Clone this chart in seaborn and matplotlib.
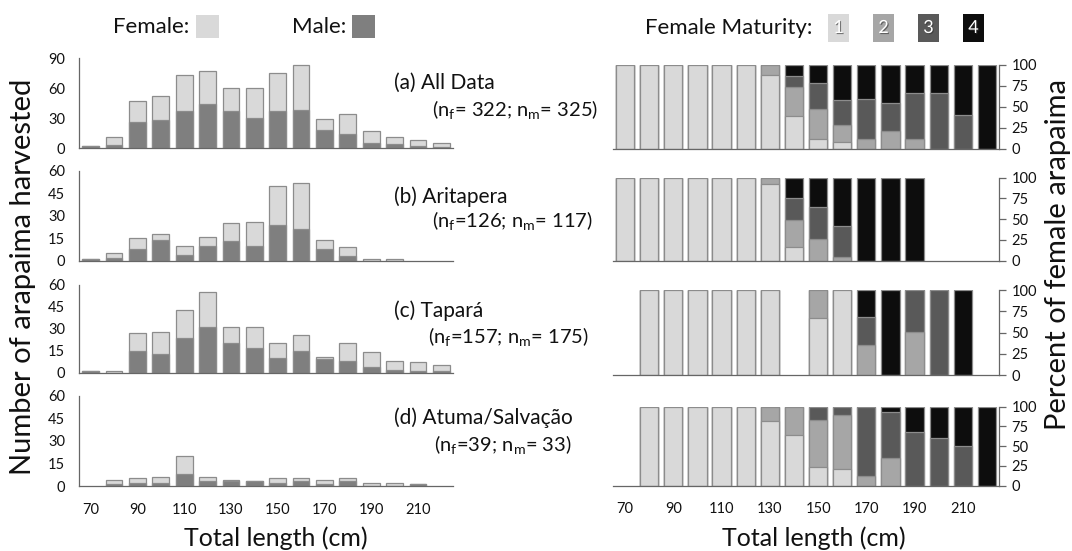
import numpy as np
import pandas as pd
import matplotlib
matplotlib.use("Agg")
import matplotlib.pyplot as plt
import matplotlib.patches as mpatches
import matplotlib.patheffects as pe
import seaborn as sns

# ---------------- data ----------------
lengths = [70, 80, 90, 100, 110, 120, 130, 140, 150, 160, 170, 180, 190, 200, 210, 220]
tick_labels = ["70", "90", "110", "130", "150", "170", "190", "210"]

a_female = [0, 8, 21, 24, 36, 33, 23, 30, 38, 45, 11, 20, 12, 7, 6, 4]
a_male = [2, 3, 26, 28, 37, 44, 37, 30, 37, 38, 18, 14, 5, 4, 2, 1]
b_female = [0, 3, 7, 4, 6, 6, 12, 16, 26, 31, 6, 6, 1, 1, 0, 0]
b_male = [1, 2, 8, 14, 4, 10, 13, 10, 24, 21, 8, 3, 0, 0, 0, 0]
c_female = [0, 1, 12, 15, 19, 24, 11, 14, 10, 11, 2, 12, 10, 6, 6, 4]
c_male = [1, 0, 15, 13, 24, 31, 20, 17, 10, 15, 9, 8, 4, 2, 1, 1]
d_female = [0, 3, 3, 4, 12, 3, 1, 0, 3, 2, 3, 2, 2, 2, 0, 0]
d_male = [0, 1, 2, 2, 8, 3, 3, 3, 2, 3, 1, 3, 0, 0, 1, 0]

N = np.nan
# female maturity stages (percent of females), NaN = no females in bin
a_s1 = [100, 100, 100, 100, 100, 100, 88, 39, 12, 8, 0, 0, 0, 0, 0, 0]
a_s2 = [0, 0, 0, 0, 0, 0, 12, 35, 36, 21, 12, 21, 12, 0, 0, 0]
a_s3 = [0, 0, 0, 0, 0, 0, 0, 13, 30, 29, 47, 34, 55, 67, 40, 0]
a_s4 = [0, 0, 0, 0, 0, 0, 0, 13, 22, 42, 41, 45, 33, 33, 60, 100]

b_s1 = [100, 100, 100, 100, 100, 100, 92, 17, 0, 0, 0, 0, 0, N, N, N]
b_s2 = [0, 0, 0, 0, 0, 0, 8, 32, 26, 5, 0, 0, 0, N, N, N]
b_s3 = [0, 0, 0, 0, 0, 0, 0, 26, 39, 37, 0, 0, 0, N, N, N]
b_s4 = [0, 0, 0, 0, 0, 0, 0, 25, 35, 58, 100, 100, 100, N, N, N]

c_s1 = [N, 100, 100, 100, 100, 100, 100, N, 67, 100, 0, 0, 0, 0, 0, N]
c_s2 = [N, 0, 0, 0, 0, 0, 0, N, 33, 0, 35, 0, 51, 0, 0, N]
c_s3 = [N, 0, 0, 0, 0, 0, 0, N, 0, 0, 33, 0, 49, 100, 0, N]
c_s4 = [N, 0, 0, 0, 0, 0, 0, N, 0, 0, 32, 100, 0, 0, 100, N]

d_s1 = [N, 100, 100, 100, 100, 100, 82, 64, 24, 21, 0, 0, 0, 0, 0, 0]
d_s2 = [N, 0, 0, 0, 0, 0, 18, 36, 59, 69, 12, 35, 0, 0, 0, 0]
d_s3 = [N, 0, 0, 0, 0, 0, 0, 0, 17, 10, 88, 58, 68, 61, 50, 0]
d_s4 = [N, 0, 0, 0, 0, 0, 0, 0, 0, 0, 0, 7, 32, 39, 50, 100]

titles = ["(a) All Data", "(b) Aritapera", "(c) Tapará", "(d) Atuma/Salvação"]
subtitles = [r"(n$_f$= 322; n$_m$= 325)", r"(n$_f$=126; n$_m$= 117)",
             r"(n$_f$=157; n$_m$= 175)", r"(n$_f$=39; n$_m$= 33)"]

# ---------------- style ----------------
sns.set_style("white")
plt.rcParams['font.family'] = ['Lato', 'DejaVu Sans']
plt.rcParams['mathtext.default'] = 'regular'
TXT = "#111111"
AX = "#666666"
EDGE = "#8c8c8c"
FEM = "#d9d9d9"
MALE = "#7f7f7f"
MAT = ["#d9d9d9", "#a6a6a6", "#595959", "#0d0d0d"]
TICK_FS = 10.5

W, H = 1072, 551
fig = plt.figure(figsize=(W / 100, H / 100), dpi=100)

def axes_px(x0, x1, top, bottom):
    return fig.add_axes([x0 / W, 1 - bottom / H, (x1 - x0) / W, (bottom - top) / H])

cats = [str(v) for v in lengths]

def bars(ax, vals, color, width):
    v = np.array(vals, dtype=float)
    df = pd.DataFrame({"len": cats, "val": v})
    df = df[np.isfinite(df["val"]) & (df["val"] > 0)]
    if len(df) == 0:
        return
    sns.barplot(data=df, x="len", y="val", order=cats, color=color, width=width,
                edgecolor=EDGE, linewidth=0.9, errorbar=None, saturation=1, ax=ax)

def style_x(ax, show_labels):
    ax.set_xlim(-0.5, len(cats) - 0.5)
    ax.set_xticks(np.arange(0, len(cats), 2))
    ax.set_xticklabels(tick_labels if show_labels else [""] * len(tick_labels),
                       fontsize=TICK_FS, color=TXT)
    ax.set_xticks(np.arange(-0.5, len(cats), 1), minor=True)
    ax.tick_params(axis='x', which='major', length=0, pad=12)
    ax.tick_params(axis='x', which='minor', length=5, width=0.9, color=AX, direction='out')
    ax.set_xlabel("")
    ax.set_ylabel("")

left_rows = [(58.3, 148.3), (171, 260.7), (285, 372.6), (395.7, 486)]
right_rows = [(64.7, 149), (177.7, 260.7), (290, 375.3), (406.7, 485.7)]
fem_all = [a_female, b_female, c_female, d_female]
male_all = [a_male, b_male, c_male, d_male]
stages_all = [(a_s1, a_s2, a_s3, a_s4), (b_s1, b_s2, b_s3, b_s4),
              (c_s1, c_s2, c_s3, c_s4), (d_s1, d_s2, d_s3, d_s4)]

for i in range(4):
    # ----- left: counts -----
    ax = axes_px(79, 453, *left_rows[i])
    tot = np.array(fem_all[i]) + np.array(male_all[i])
    bars(ax, tot, FEM, 0.72)
    bars(ax, male_all[i], MALE, 0.72)
    style_x(ax, i == 3)
    if i == 0:
        ax.set_ylim(0, 90)
        ax.set_yticks([0, 30, 60, 90])
    else:
        ax.set_ylim(0, 60)
        ax.set_yticks([0, 15, 30, 45, 60])
    ax.tick_params(axis='y', length=5, width=0.9, color=AX, direction='out',
                   labelsize=TICK_FS, labelcolor=TXT, pad=5)
    for s in ["top", "right"]:
        ax.spines[s].set_visible(False)
    for s in ["left", "bottom"]:
        ax.spines[s].set_color(AX)
        ax.spines[s].set_linewidth(0.9)
    ax.patch.set_alpha(0)

    # ----- right: maturity -----
    ax2 = axes_px(613, 999, *right_rows[i])
    s = [np.array(x, dtype=float) for x in stages_all[i]]
    c4 = s[0] + s[1] + s[2] + s[3]
    c3 = s[0] + s[1] + s[2]
    c2 = s[0] + s[1]
    c1 = s[0]
    for cum, col in zip([c4, c3, c2, c1], MAT[::-1]):
        bars(ax2, cum, col, 0.76)
    style_x(ax2, i == 3)
    ax2.set_ylim(0, 100)
    ax2.set_yticks([0, 25, 50, 75, 100])
    ax2.yaxis.tick_right()
    ax2.tick_params(axis='y', length=5, width=0.9, color=AX, direction='out',
                    labelsize=TICK_FS, labelcolor=TXT, pad=4)
    for sp in ["top", "left"]:
        ax2.spines[sp].set_visible(False)
    for sp in ["right", "bottom"]:
        ax2.spines[sp].set_color(AX)
        ax2.spines[sp].set_linewidth(0.9)
    ax2.patch.set_alpha(0)

# ----- panel titles -----
title_y = [83, 197, 311, 418]
sub_y = [110, 220, 337, 444]
sub_x = [432, 432, 428, 434]
for i in range(4):
    fig.text(394 / W, 1 - title_y[i] / H, titles[i], fontsize=15, color=TXT,
             ha='left', va='center')
    fig.text(sub_x[i] / W, 1 - sub_y[i] / H, subtitles[i], fontsize=14.5, color=TXT,
             ha='left', va='center')

# ----- axis labels -----
fig.text(23 / W, 1 - 277 / H, "Number of arapaima harvested", fontsize=21, color=TXT,
         rotation=90, ha='center', va='center')
fig.text(1058 / W, 1 - 255 / H, "Percent of female arapaima", fontsize=21, color=TXT,
         rotation=90, ha='center', va='center')
fig.text(276 / W, 1 - 538 / H, "Total length (cm)", fontsize=18, color=TXT,
         ha='center', va='center')
fig.text(814 / W, 1 - 538 / H, "Total length (cm)", fontsize=18, color=TXT,
         ha='center', va='center')

# ----- top legends -----
def rect_px(x, y, w, h, color):
    r = mpatches.Rectangle((x / W, 1 - (y + h) / H), w / W, h / H, transform=fig.transFigure,
                           facecolor=color, edgecolor='none')
    fig.add_artist(r)

fig.text(113 / W, 1 - 27 / H, "Female:", fontsize=16, color=TXT, ha='left', va='center')
rect_px(196, 15, 23, 23, FEM)
fig.text(292 / W, 1 - 27 / H, "Male:", fontsize=16, color=TXT, ha='left', va='center')
rect_px(352, 15, 23, 23, MALE)
fig.text(645 / W, 1 - 28 / H, "Female Maturity:", fontsize=16, color=TXT, ha='left', va='center')
box_x = [828, 873, 918, 963]
for k in range(4):
    rect_px(box_x[k], 14, 21, 28, MAT[k])
    fig.text((box_x[k] + 10.5) / W, 1 - 28 / H, str(k + 1), fontsize=13, color='white',
             ha='center', va='center',
             path_effects=[pe.withSimplePatchShadow(offset=(0.8, -0.8), shadow_rgbFace='#333333', alpha=0.6)])

fig.savefig("out.png", dpi=100)
